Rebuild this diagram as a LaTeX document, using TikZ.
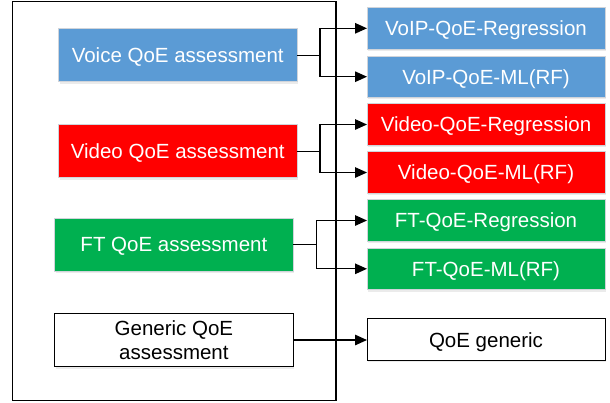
\documentclass[tikz,border=0pt]{standalone}
\usepackage{fontspec}
\setmainfont{Liberation Sans}
\usetikzlibrary{arrows.meta,shadows}
\definecolor{qblue}{HTML}{5B9BD5}
\definecolor{qred}{HTML}{FF0000}
\definecolor{qgreen}{HTML}{00B050}
\definecolor{qedge}{HTML}{D0D4DA}
\begin{document}
\begin{tikzpicture}[x=1bp,y=-1bp,
  qbox/.style={draw=qedge, line width=0.9bp, inner sep=0pt, outer sep=0pt,
    font=\fontsize{20.5bp}{23.5bp}\selectfont, align=center,
    text height=14.7bp, text depth=0bp,
    drop shadow={shadow xshift=1.2bp, shadow yshift=-2bp, fill=black!8, opacity=1}},
  leftbox/.style={qbox, minimum width=238.5bp, minimum height=53bp},
  rightbox/.style={qbox, minimum width=238bp, minimum height=41.5bp},
  colbox/.style={text=white},
  plainbox/.style={fill=white, draw=black, line width=1bp},
  conn/.style={line width=1.3bp, -{Triangle[length=12bp,width=10.5bp]}},
  frame/.style={draw=black, line width=1.1bp}]
\useasboundingbox (0,0) rectangle (610,402);
\node[frame, minimum width=323.5bp, minimum height=399bp, inner sep=0pt] (outer) at (174.25,201.2) {};
% left boxes
\node[leftbox, colbox, fill=qblue] (voice) at (177.75,55.3) {Voice QoE assessment};
\node[leftbox, colbox, fill=qred] (video) at (177.75,151.2) {Video QoE assessment};
\node[leftbox, colbox, fill=qgreen] (ft) at (173.9,244.5) {FT QoE assessment};
\node[leftbox, plainbox, text height={}, text depth={}] (generic) at (173.9,340) {Generic QoE\\assessment};
% right boxes
\node[rightbox, colbox, fill=qblue] (voipreg) at (486,28.3) {VoIP-QoE-Regression};
\node[rightbox, colbox, fill=qblue] (voipml) at (486,76.7) {VoIP-QoE-ML(RF)};
\node[rightbox, colbox, fill=qred] (vidreg) at (486,124.5) {Video-QoE-Regression};
\node[rightbox, colbox, fill=qred] (vidml) at (486,172.5) {Video-QoE-ML(RF)};
\node[rightbox, colbox, fill=qgreen] (ftreg) at (486,220.5) {FT-QoE-Regression};
\node[rightbox, colbox, fill=qgreen] (ftml) at (486,268.8) {FT-QoE-ML(RF)};
\node[rightbox, plainbox] (qoegen) at (486,339.7) {QoE generic};
% connectors
\draw[conn] (voice.east) -- ++(23,0) |- (voipreg.west);
\draw[conn] (voice.east) -- ++(23,0) |- (voipml.west);
\draw[conn] (video.east) -- ++(23,0) |- (vidreg.west);
\draw[conn] (video.east) -- ++(23,0) |- (vidml.west);
\draw[conn] (ft.east) -- ++(23,0) |- (ftreg.west);
\draw[conn] (ft.east) -- ++(23,0) |- (ftml.west);
\draw[conn] (generic.east) -- (generic.east -| qoegen.west);
\end{tikzpicture}
\end{document}
